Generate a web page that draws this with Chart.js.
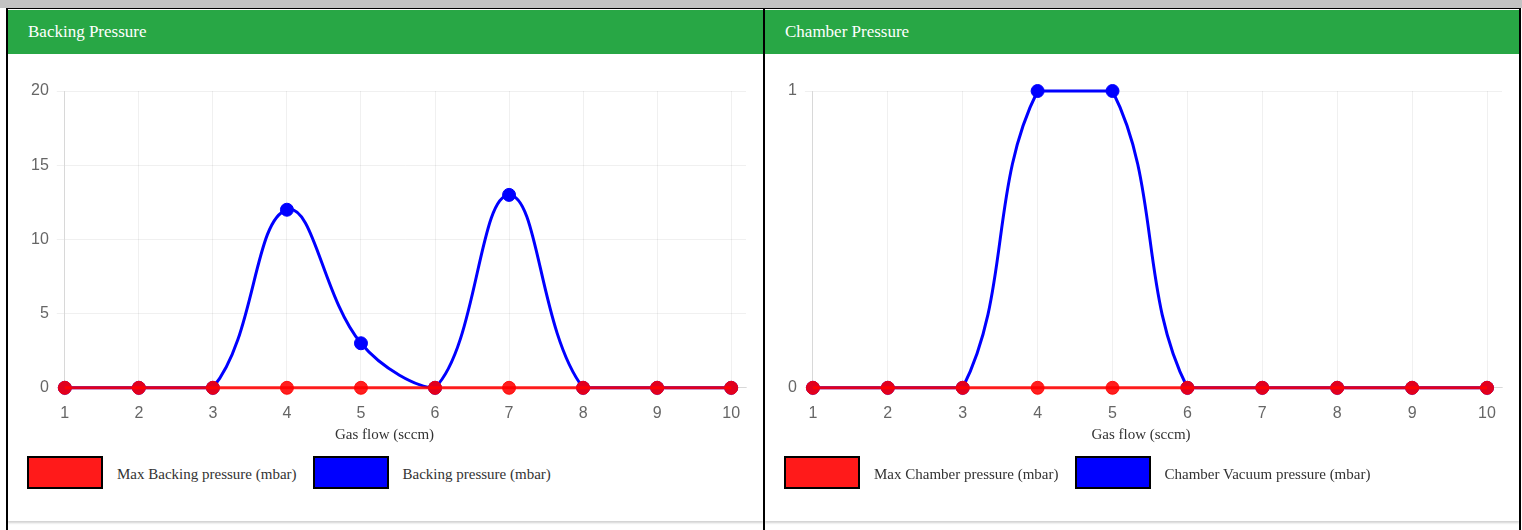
<!DOCTYPE html>
<html>
<head>
<meta charset="utf-8">
<script src="https://cdn.jsdelivr.net/npm/chart.js@4/dist/chart.umd.min.js"></script>
<style>
  body { margin: 0; width: 1522px; height: 530px; position: relative; background: #fff; overflow: hidden; }
  .topbar { position: absolute; left: 0; top: 0; width: 1522px; height: 8px; background: #c3c3c3; }
  .hline { position: absolute; left: 6px; top: 8px; width: 1515px; height: 1px; background: #000; }
  .vline { position: absolute; top: 8px; width: 2px; height: 522px; background: #000; }
  .card { position: absolute; top: 10px; height: 511px; background: #fff; box-shadow: 0 2px 2px rgba(0,0,0,0.18); }
  .card-header { height: 44px; background: #28a745; color: #fff; font-family: 'Liberation Serif', serif; font-size: 17px; line-height: 44px; padding-left: 20px; }
  .card canvas { position: absolute; left: 0; top: 44px; }
  .legend { position: absolute; left: 19px; top: 446px; display: flex; align-items: center; font-family: 'Liberation Serif', serif; font-size: 15px; color: #333; }
  .legend .box { width: 72px; height: 29px; border: 2px solid #000; margin-right: 14px; }
  .legend .label { margin-right: 16px; position: relative; top: 2px; }
</style>
</head>
<body>
<div class="topbar"></div>
<div class="hline"></div>
<div class="vline" style="left:6px"></div>
<div class="vline" style="left:763px"></div>
<div class="vline" style="left:1519px"></div>

<div class="card" style="left:8px; width:755px;">
  <div class="card-header">Backing Pressure</div>
  <canvas id="backingChart" width="755" height="400"></canvas>
  <div class="legend" id="backingLegend"></div>
</div>
<div class="card" style="left:765px; width:754px;">
  <div class="card-header">Chamber Pressure</div>
  <canvas id="chamberChart" width="754" height="400"></canvas>
  <div class="legend" id="chamberLegend"></div>
</div>

<script>
// gas flow steps (sccm)
const gasFlow = [1, 2, 3, 4, 5, 6, 7, 8, 9, 10];

// backing pressure (mbar)
const maxBacking = [0, 0, 0, 0, 0, 0, 0, 0, 0, 0];
const backing = [0, 0, 0, 12, 3, 0, 13, 0, 0, 0];

// chamber pressure (mbar)
const maxChamber = [0, 0, 0, 0, 0, 0, 0, 0, 0, 0];
const chamberVacuum = [0, 0, 0, 1, 1, 0, 0, 0, 0, 0];

const backingTicks = { max: 20, step: 5 };
const chamberTicks = { max: 1, step: 1 };

const RED = 'rgba(255, 0, 0, 0.88)';
const BLUE = 'rgb(0, 0, 255)';

Chart.defaults.font.family = "'Liberation Sans', Arial, sans-serif";
Chart.defaults.color = '#666';

// builds the legend as html boxes below the canvas
const htmlLegend = {
    id: 'htmlLegend',
    afterUpdate(chart, args, opts) {
        const el = document.getElementById(opts.containerID);
        if (!el) return;
        el.innerHTML = '';
        chart.data.datasets.forEach(ds => {
            const box = document.createElement('span');
            box.className = 'box';
            box.style.background = ds.legendColor;
            const txt = document.createElement('span');
            txt.className = 'label';
            txt.textContent = ds.label;
            el.appendChild(box);
            el.appendChild(txt);
        });
    }
};

function toPoints(values) {
    return gasFlow.map((x, i) => ({ x: x, y: values[i] }));
}

function makeChart(canvasId, legendId, series, yTicks) {
    const ctx = document.getElementById(canvasId);
    return new Chart(ctx, {
        type: 'line',
        data: {
            datasets: series.map(s => ({
                label: s.label,
                data: toPoints(s.values),
                borderColor: s.color,
                backgroundColor: s.color,
                legendColor: s.legendColor,
                borderWidth: 3,
                pointRadius: 6.5,
                pointBorderWidth: 1,
                fill: false,
                tension: 0.4,
                clip: false
            }))
        },
        options: {
            responsive: false,
            animation: false,
            devicePixelRatio: 1,
            layout: { padding: { left: 15, top: 37, right: 17, bottom: 0 } },
            plugins: {
                legend: { display: false },
                tooltip: { enabled: false },
                title: {
                    display: true,
                    position: 'bottom',
                    text: 'Gas flow (sccm)',
                    color: '#333',
                    font: { family: "'Liberation Serif', serif", size: 15, weight: 'normal' },
                    padding: { top: -5, bottom: 10 }
                },
                htmlLegend: { containerID: legendId }
            },
            scales: {
                x: {
                    type: 'linear',
                    min: 1,
                    max: 10.2,
                    afterBuildTicks: scale => {
                        scale.ticks = gasFlow.map(v => ({ value: v }));
                    },
                    ticks: { stepSize: 1, padding: 8, font: { size: 16 } },
                    grid: { color: 'rgba(0,0,0,0.06)' }
                },
                y: {
                    min: 0,
                    max: yTicks.max,
                    ticks: { stepSize: yTicks.step, padding: 8, font: { size: 16 } },
                    grid: { color: 'rgba(0,0,0,0.06)' }
                }
            }
        },
        plugins: [htmlLegend]
    });
}

makeChart('backingChart', 'backingLegend', [
    { label: 'Max Backing pressure (mbar)', values: maxBacking, color: RED, legendColor: '#ff1a1a' },
    { label: 'Backing pressure (mbar)', values: backing, color: BLUE, legendColor: '#0000ff' }
], backingTicks);

makeChart('chamberChart', 'chamberLegend', [
    { label: 'Max Chamber pressure (mbar)', values: maxChamber, color: RED, legendColor: '#ff1a1a' },
    { label: 'Chamber Vacuum pressure (mbar)', values: chamberVacuum, color: BLUE, legendColor: '#0000ff' }
], chamberTicks);
</script>
</body>
</html>
